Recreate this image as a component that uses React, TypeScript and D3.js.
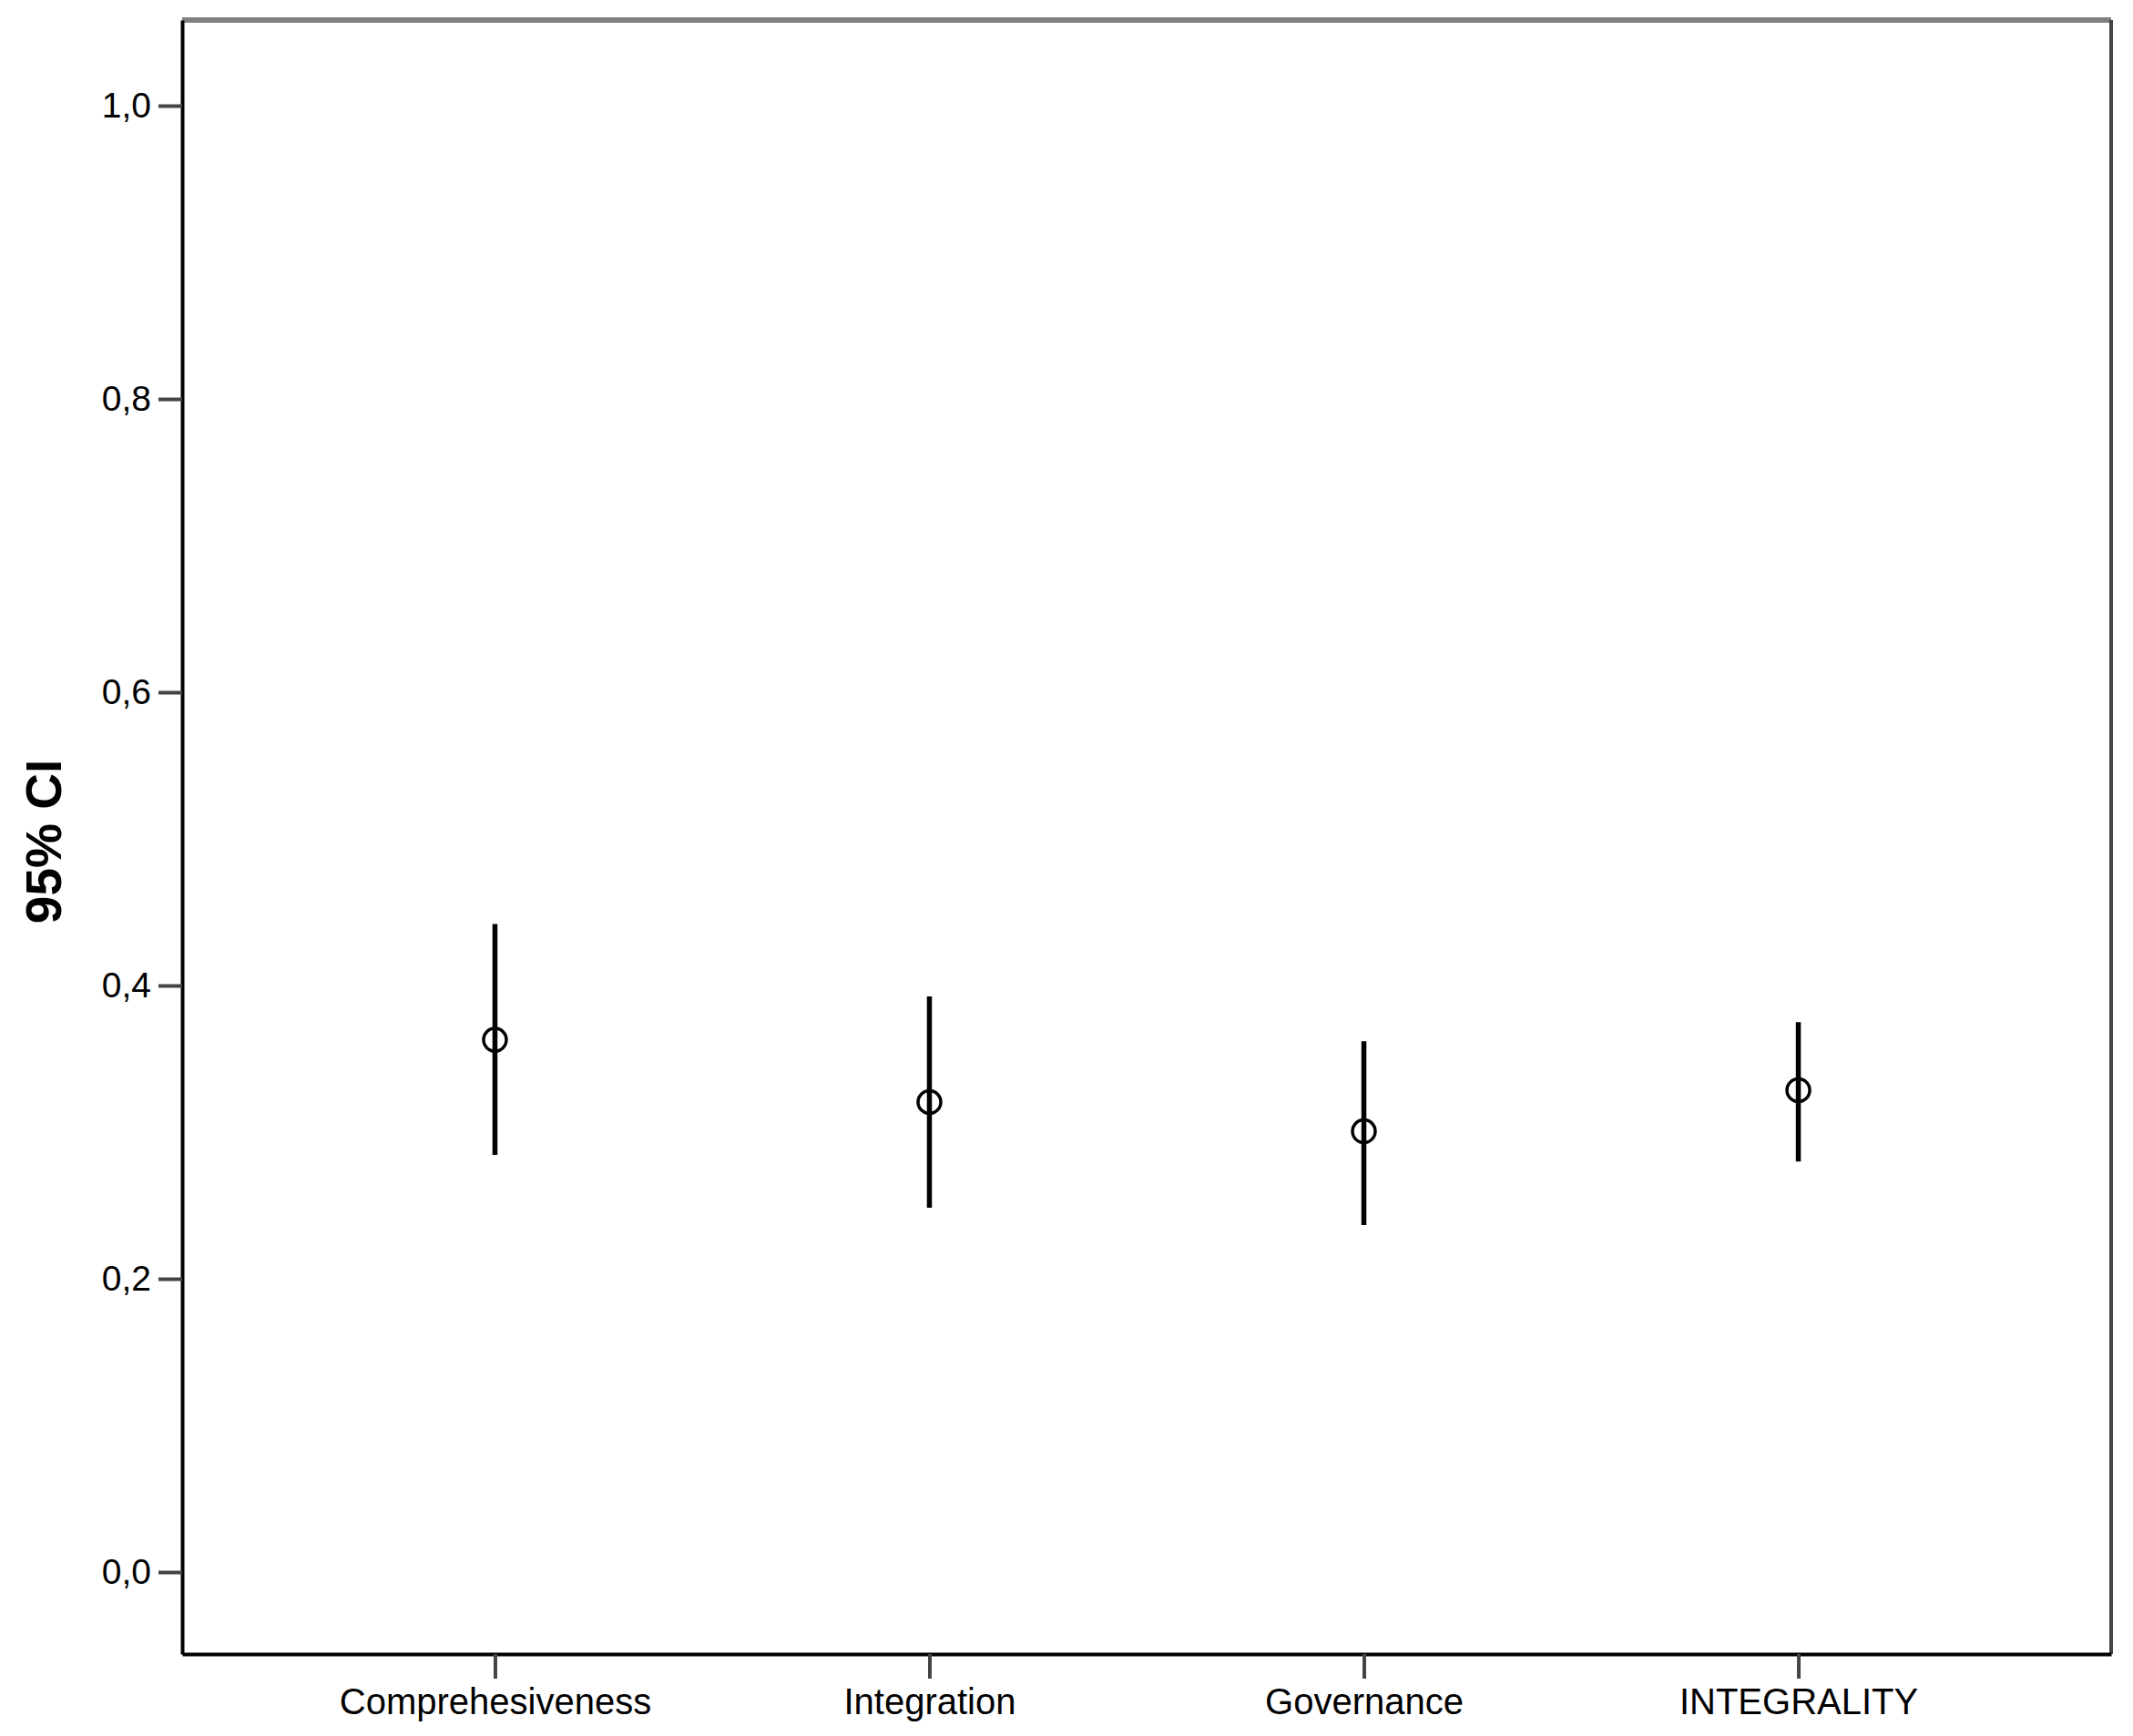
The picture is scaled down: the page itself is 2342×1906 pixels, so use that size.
import React, { useRef, useEffect } from 'react';
import * as d3 from 'd3';

// categories and 95% CI values
const categories = ["Comprehesiveness", "Integration", "Governance", "INTEGRALITY"];
const means = [0.363, 0.3205, 0.3006, 0.3286];
const lower = [0.2845, 0.2484, 0.2366, 0.280];
const upper = [0.442, 0.3925, 0.362, 0.375];
const yTicks = [0, 0.2, 0.4, 0.6, 0.8, 1.0];

export default function App() {
  const svgRef = useRef<SVGSVGElement>(null);

  useEffect(() => {
    const width = 2342;
    const height = 1906;
    const margin = { top: 22, right: 24, bottom: 90, left: 200 };
    const svg = d3.select(svgRef.current);
    svg.selectAll("*").remove();
    svg.attr("width", width).attr("height", height);

    const font = "Arial, 'Liberation Sans', sans-serif";

    const x = d3.scalePoint<string>()
      .domain(categories)
      .range([margin.left, width - margin.right])
      .padding(0.72);

    const y = d3.scaleLinear()
      .domain([-0.0559, 1.0584])
      .range([height - margin.bottom, margin.top]);

    const fmt = (d: number) => d3.format(".1f")(d).replace(".", ",");

    // frame: top and right in grey
    svg.append("line")
      .attr("x1", margin.left).attr("x2", width - margin.right)
      .attr("y1", margin.top).attr("y2", margin.top)
      .attr("stroke", "#808080").attr("stroke-width", 6);
    svg.append("line")
      .attr("x1", width - margin.right).attr("x2", width - margin.right)
      .attr("y1", margin.top).attr("y2", height - margin.bottom)
      .attr("stroke", "#444").attr("stroke-width", 4);

    // y axis
    const yAxis = svg.append("g")
      .attr("transform", `translate(${margin.left},0)`)
      .call(d3.axisLeft(y).tickValues(yTicks).tickFormat(fmt as any).tickSize(26).tickSizeOuter(0).tickPadding(8));
    yAxis.select(".domain").attr("stroke", "#000").attr("stroke-width", 4);
    yAxis.selectAll(".tick line").attr("stroke", "#444").attr("stroke-width", 4);
    yAxis.selectAll(".tick text")
      .attr("fill", "#000")
      .style("font-family", font)
      .style("font-size", "39px");

    // x axis
    const xAxis = svg.append("g")
      .attr("transform", `translate(0,${height - margin.bottom})`)
      .call(d3.axisBottom(x).tickSize(27).tickSizeOuter(0).tickPadding(11));
    xAxis.select(".domain").attr("stroke", "#000").attr("stroke-width", 4);
    xAxis.selectAll(".tick line").attr("stroke", "#444").attr("stroke-width", 4);
    xAxis.selectAll(".tick text")
      .attr("fill", "#000")
      .style("font-family", font)
      .style("font-size", "40px");

    const rows = categories.map((c, i) => ({ c, mean: means[i], lo: lower[i], hi: upper[i] }));

    // error bars
    svg.append("g")
      .selectAll("line")
      .data(rows)
      .join("line")
      .attr("x1", d => x(d.c)!)
      .attr("x2", d => x(d.c)!)
      .attr("y1", d => y(d.lo))
      .attr("y2", d => y(d.hi))
      .attr("stroke", "#000")
      .attr("stroke-width", 5.5);

    // mean markers
    svg.append("g")
      .selectAll("circle")
      .data(rows)
      .join("circle")
      .attr("cx", d => x(d.c)!)
      .attr("cy", d => y(d.mean))
      .attr("r", 12.5)
      .attr("fill", "none")
      .attr("stroke", "#000")
      .attr("stroke-width", 3.5);

    // y axis title
    svg.append("text")
      .attr("transform", "rotate(-90)")
      .attr("x", -924)
      .attr("y", 67)
      .attr("text-anchor", "middle")
      .style("font-family", font)
      .style("font-weight", "bold")
      .style("font-size", "55px")
      .text("95% CI");
  }, []);

  return (
    <div style={{ position: "absolute", left: 0, top: 0, background: "#fff" }}>
      <svg ref={svgRef} style={{ display: "block" }} />
    </div>
  );
}
